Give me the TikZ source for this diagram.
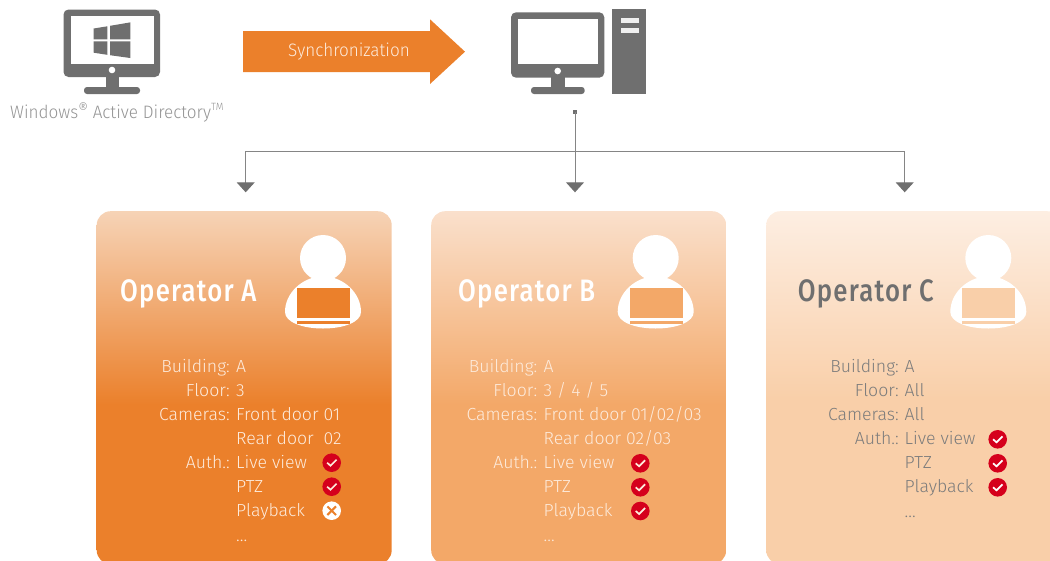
\documentclass[tikz,border=0pt]{standalone}
\usepackage{fontspec}
\setmainfont{Fira Sans}[UprightFont=* Light,FakeStretch=1.01]
\newfontfamily\headfont{Fira Sans}[UprightFont=* Light,FakeStretch=0.95]
\newfontfamily\titlefont{Fira Sans}[UprightFont=* Medium,FakeStretch=0.83,LetterSpace=4]
\usetikzlibrary{arrows.meta}
\definecolor{ink}{HTML}{6F6F6F}
\definecolor{wire}{HTML}{858585}
\definecolor{orA}{HTML}{EB802B}
\definecolor{orB}{HTML}{F3A868}
\definecolor{orC}{HTML}{F9CFA9}
\definecolor{okred}{HTML}{D5001C}
\definecolor{paleA}{HTML}{FDEBDC}
\definecolor{grayT}{HTML}{7C7C7C}
\definecolor{HTMLtopA}{HTML}{F6D3B6}
\definecolor{HTMLtopB}{HTML}{FAE0CC}
\definecolor{HTMLtopC}{HTML}{FDEEE2}
\pgfdeclareverticalshading{cardA}{100bp}{color(0bp)=(orA);color(47.6bp)=(orA);color(75bp)=(HTMLtopA);color(100bp)=(HTMLtopA)}
\pgfdeclareverticalshading{cardB}{100bp}{color(0bp)=(orB);color(47.6bp)=(orB);color(75bp)=(HTMLtopB);color(100bp)=(HTMLtopB)}
\pgfdeclareverticalshading{cardC}{100bp}{color(0bp)=(orC);color(48.5bp)=(orC);color(75bp)=(HTMLtopC);color(100bp)=(HTMLtopC)}
\newcommand\supreg{\raisebox{0.22em}{\fontsize{16}{16}\selectfont ®}}
\newcommand\suptm{\raisebox{0.42em}{\fontsize{10.5}{11}\selectfont TM}}
\tikzset{
  card/.style={rectangle,rounded corners=14pt,minimum width=295pt,minimum height=353pt,inner sep=0pt,anchor=north west},
  optitle/.style={anchor=base west,inner sep=0pt,font=\titlefont\fontsize{31}{31}\selectfont},
  lab/.style={anchor=base east,inner sep=0pt,font=\fontsize{17.5}{18}\selectfont},
  val/.style={anchor=base west,inner sep=0pt,font=\fontsize{17.5}{18}\selectfont},
  conn/.style={draw=wire,line width=1pt},
  tip/.style={-{Triangle[width=18pt,length=10pt,fill=ink,color=ink]}},
  badge/.style={circle,fill=okred,minimum size=18.6pt,inner sep=0pt},
  nobadge/.style={circle,fill=white,minimum size=18.6pt,inner sep=0pt},
}
\newcommand\person[2]{%
  \begin{scope}[shift={(#1,0)}]
    \fill[white] (285,312) .. controls (285,293) and (302,277) .. (323,276) .. controls (344,277) and (361,293) .. (361,312) .. controls (361,322) and (344,328.5) .. (323,328.5) .. controls (302,328.5) and (285,322) .. (285,312) -- cycle;
    \fill[white] (323,258) circle (23);
    \fill[#2] (297,288) rectangle (350,318);
    \fill[#2] (297,321) rectangle (350,324.3);
  \end{scope}}
\newcommand\okmark[3]{%
  \node[badge] (#1) at (#2,#3) {};
  \draw[#1mark,line width=1.7pt] ([xshift=-4.6pt,yshift=0pt]#1.center) -- ([xshift=-1.2pt,yshift=-3pt]#1.center) -- ([xshift=4.8pt,yshift=3pt]#1.center);}
\begin{document}
\begin{tikzpicture}[x=1pt,y=-1pt]
\useasboundingbox (0,0) rectangle (1050,560);
\clip (0,0) rectangle (1050,560);
% Active Directory monitor
\fill[ink,rounded corners=5pt] (63.5,9.5) rectangle (160,77);
\fill[white] (70.5,16) rectangle (153.7,63.5);
\fill[white] (112,70) circle (3.3);
\fill[ink] (105.5,76) rectangle (118.7,88);
\fill[ink,rounded corners=3pt] (84,94) -- (84,87) -- (140,87) -- (140,94) -- cycle;
\fill[ink] (93.7,28.5) -- (107.3,26.3) -- (107.3,39.3) -- (93.7,39.3) -- cycle;
\fill[ink] (110,25.8) -- (130.3,22.4) -- (130.3,39.3) -- (110,39.3) -- cycle;
\fill[ink] (93.7,41.3) -- (107.3,41.3) -- (107.3,54.8) -- (93.7,52.7) -- cycle;
\fill[ink] (110,41.3) -- (130.3,41.3) -- (130.3,58) -- (110,55.2) -- cycle;
\node[anchor=base west,inner sep=0pt,text=black!42,font=\headfont\fontsize{18}{18}\selectfont] (adlabel) at (10,118) {Windows\supreg\ Active Directory\suptm};
% Sync arrow
\fill[orA] (243,31) -- (430,31) -- (430,19.3) -- (465,51.7) -- (430,84) -- (430,72) -- (243,72) -- cycle;
\node[text=paleA,inner sep=0pt,anchor=base,font=\headfont\fontsize{18}{18}\selectfont] (sync) at (349,56) {Synchronization};
% Server
\fill[ink,rounded corners=5pt] (511,12.3) rectangle (604.3,77.7);
\fill[white] (517.7,19) rectangle (598,64.3);
\fill[white] (557.7,71) circle (3.3);
\fill[ink] (551,76) rectangle (564.7,88);
\fill[ink,rounded corners=3pt] (531,94) -- (531,87) -- (584.7,87) -- (584.7,94) -- cycle;
\fill[ink] (612,9) rectangle (646,93.7);
\fill[black!6] (621,18) rectangle (639,23);
\fill[black!6] (621,28) rectangle (639,33);
% Connectors
\node[fill=ink,minimum size=4pt,inner sep=0pt] (src) at (575,112) {};
\coordinate (hub) at (575,151.7);
\coordinate (tipA) at (245.7,192.3);
\coordinate (tipB) at (575,192.3);
\coordinate (tipC) at (904.7,192.3);
\draw[conn,tip] (src.center) -- (tipB);
\draw[conn,tip] (hub) -| (tipA);
\draw[conn,tip] (hub) -| (tipC);
% Cards
\node[card,shade,shading=cardA,shading angle=0] (cardAn) at (96.5,211) {};
\node[card,shade,shading=cardB,shading angle=0] (cardBn) at (431,211) {};
\node[card,shade,shading=cardC,shading angle=0] (cardCn) at (766,211) {};
\person{0}{orA}
\person{332.7}{orB}
\person{665.3}{orC}
\node[optitle,text=white] (titleA) at (120,301.7) {Operator A};
\node[optitle,text=white] (titleB) at (458,301.7) {Operator B};
\node[optitle,text=ink] (titleC) at (797.7,301.7) {Operator C};
% Card A text
\begin{scope}[lab/.append style={text=paleA},val/.append style={text=paleA},a1mark/.style={draw=paleA},a2mark/.style={draw=paleA}]
\node[lab] (al1) at (230,372) {Building:};
\node[val] (av1) at (236,372) {A};
\node[lab] (al2) at (230,396) {Floor:};
\node[val] (av2) at (236,396) {3};
\node[lab] (al3) at (230,420) {Cameras:};
\node[val] (av3) at (236,420) {Front door 01};
\node[val] (av4) at (236,444) {Rear door\ \ 02};
\node[lab] (al5) at (230,468) {Auth.:};
\node[val] (av5) at (236,468) {Live view};
\node[val] (av6) at (236,492) {PTZ};
\node[val] (av7) at (236,516) {Playback};
\node[val] (av8) at (236,541) {...};
\okmark{a1}{331.7}{462.7}
\okmark{a2}{331.7}{486.7}
\node[nobadge] (a3) at (331.7,510.7) {};
\draw[orA,line width=2pt] ([xshift=-4.3pt,yshift=-4.3pt]a3.center) -- ([xshift=4.3pt,yshift=4.3pt]a3.center);
\draw[orA,line width=2pt] ([xshift=-4.3pt,yshift=4.3pt]a3.center) -- ([xshift=4.3pt,yshift=-4.3pt]a3.center);
\end{scope}
% Card B text
\begin{scope}[lab/.append style={text=paleA},val/.append style={text=paleA},b1mark/.style={draw=paleA},b2mark/.style={draw=paleA},b3mark/.style={draw=paleA}]
\node[lab] (bl1) at (537.5,372) {Building:};
\node[val] (bv1) at (543.5,372) {A};
\node[lab] (bl2) at (537.5,396) {Floor:};
\node[val] (bv2) at (543.5,396) {3 / 4 / 5};
\node[lab] (bl3) at (537.5,420) {Cameras:};
\node[val] (bv3) at (543.5,420) {Front door 01/02/03};
\node[val] (bv4) at (543.5,444) {Rear door 02/03};
\node[lab] (bl5) at (537.5,468) {Auth.:};
\node[val] (bv5) at (543.5,468) {Live view};
\node[val] (bv6) at (543.5,492) {PTZ};
\node[val] (bv7) at (543.5,516) {Playback};
\node[val] (bv8) at (543.5,541) {...};
\okmark{b1}{640.3}{463.3}
\okmark{b2}{640.3}{487.3}
\okmark{b3}{640.3}{511}
\end{scope}
% Card C text
\begin{scope}[lab/.append style={text=grayT},val/.append style={text=grayT},c1mark/.style={draw=white},c2mark/.style={draw=white},c3mark/.style={draw=white}]
\node[lab] (cl1) at (899,372) {Building:};
\node[val] (cv1) at (904.5,372) {A};
\node[lab] (cl2) at (899,396) {Floor:};
\node[val] (cv2) at (904.5,396) {All};
\node[lab] (cl3) at (899,420) {Cameras:};
\node[val] (cv3) at (904.5,420) {All};
\node[lab] (cl4) at (899,444) {Auth.:};
\node[val] (cv4) at (904.5,444) {Live view};
\node[val] (cv5) at (904.5,468) {PTZ};
\node[val] (cv6) at (904.5,492) {Playback};
\node[val] (cv7) at (904.5,517) {...};
\okmark{c1}{997.7}{439.3}
\okmark{c2}{997.7}{463.3}
\okmark{c3}{997.7}{487.3}
\end{scope}
\end{tikzpicture}
\end{document}
